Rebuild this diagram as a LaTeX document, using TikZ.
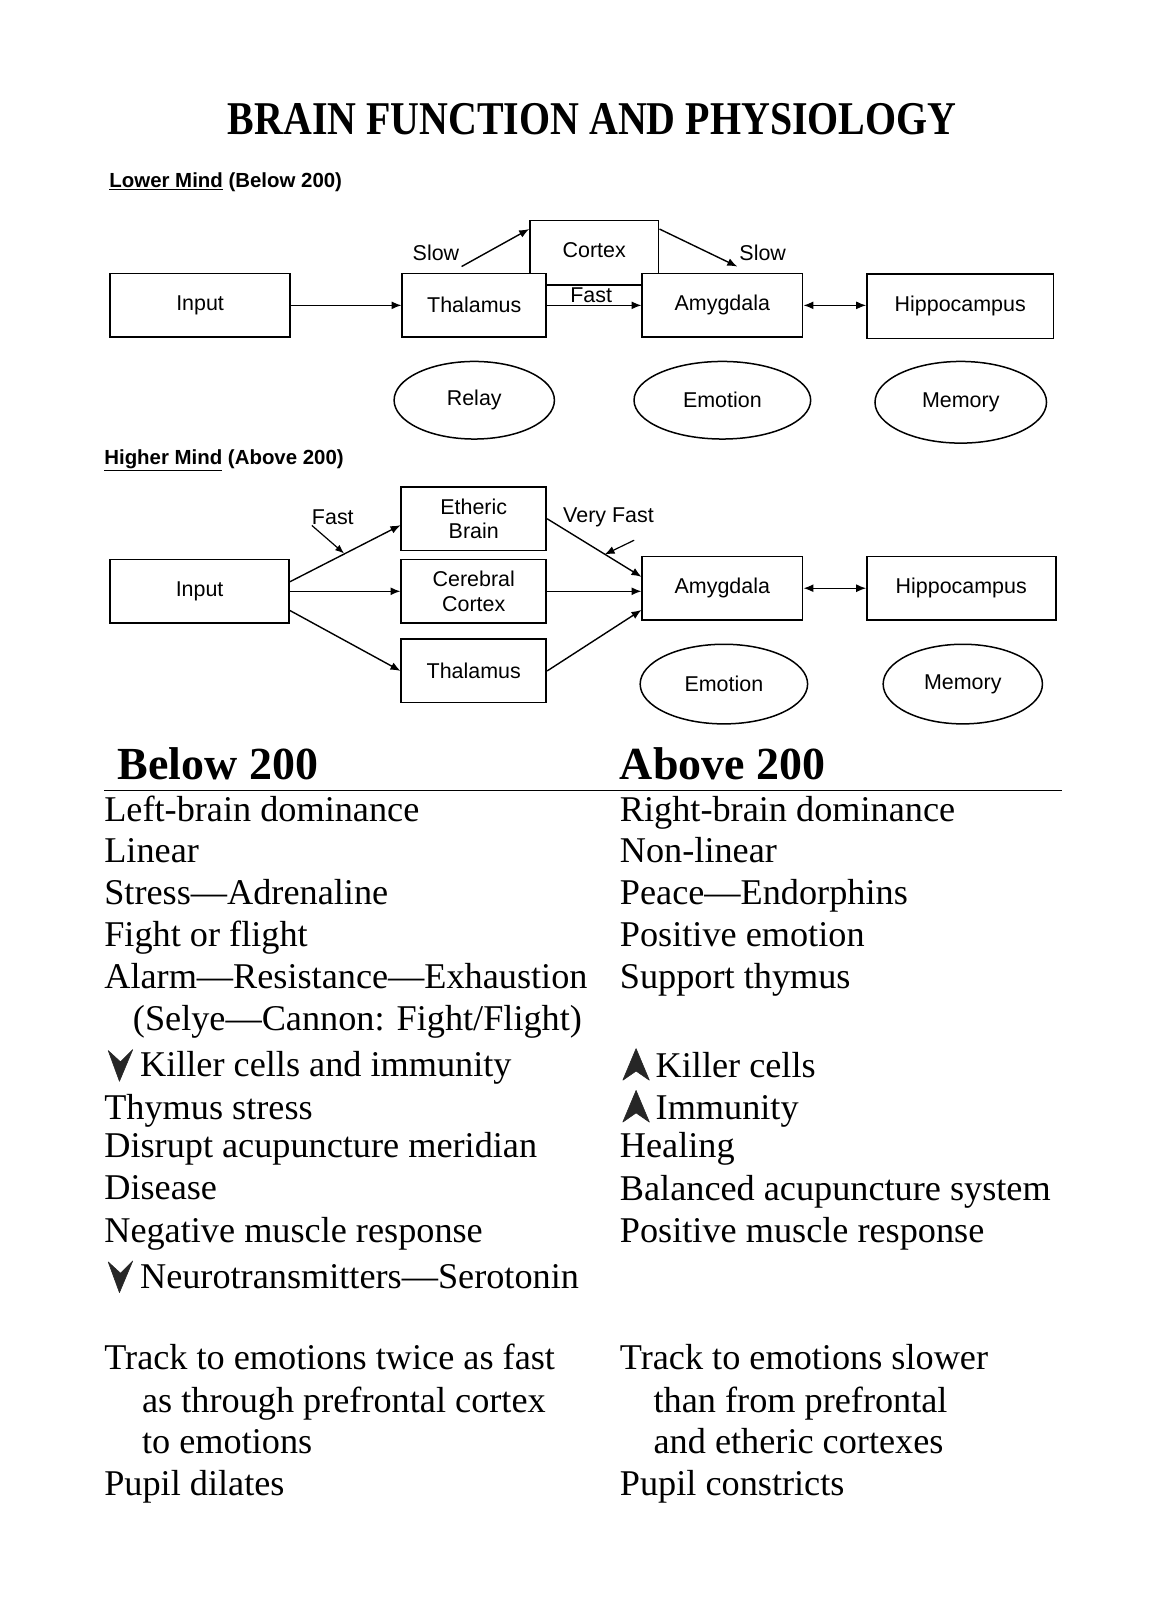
\documentclass[tikz,border=0pt]{standalone}
\usepackage{fontspec}
\setmainfont{Liberation Serif}
\newfontfamily\diagfont{Liberation Sans}
\usetikzlibrary{shapes.geometric,arrows.meta}
\begin{document}
\begin{tikzpicture}[x=1pt,y=-1pt,scale=1.021,transform shape,
  box/.style={draw,line width=1.6pt,fill=white,inner sep=0pt,font=\diagfont\fontsize{21}{24}\selectfont,align=center},
  oval/.style={draw,ellipse,line width=1.5pt,inner sep=0pt,font=\diagfont\fontsize{21}{24}\selectfont},
  lbl/.style={inner sep=0pt,font=\diagfont\fontsize{21}{24}\selectfont},
  arr/.style={line width=1.4pt,-{Latex[length=10pt,width=8pt]}},
  darr/.style={line width=1.4pt,{Latex[length=10pt,width=8pt]}-{Latex[length=10pt,width=8pt]}},
  txt/.style={anchor=base west,inner sep=0pt,font=\fontsize{35.5}{40}\selectfont},
  head/.style={anchor=base west,inner sep=0pt,font=\bfseries\fontsize{45}{48}\selectfont},
  sub/.style={anchor=base west,inner sep=0pt,font=\diagfont\bfseries\fontsize{20}{24}\selectfont},
  glyph/.style={fill=black!85,draw=black!85,line width=0.6pt,line join=round}
]
\useasboundingbox (0,0) rectangle (1137.1,1567.1);

% Title
\node[inner sep=0pt,xscale=0.85,font=\bfseries\fontsize{46}{50}\selectfont] (title) at (580,117) {BRAIN FUNCTION AND PHYSIOLOGY};
\node[sub] (lower) at (107,184) {\underline{Lower Mind} (Below 200)};

% ---- Lower mind diagram ----
\node[box,minimum width=126,minimum height=63,text depth=5pt] (cortex) at (582,247.5) {Cortex};
\node[box,minimum width=176,minimum height=62] (in1) at (196,299) {Input};
\node[box,minimum width=141,minimum height=62] (thal1) at (464.5,299) {Thalamus};
\node[box,minimum width=157,minimum height=62] (amy1) at (707.5,299) {Amygdala};
\node[box,minimum width=183,minimum height=63] (hip1) at (940.5,300) {Hippocampus};

\node[oval,minimum width=157,minimum height=76] (relay) at (464.5,392) {Relay};
\node[oval,minimum width=173,minimum height=76] (emo1) at (707.5,392) {Emotion};
\node[oval,minimum width=168,minimum height=80] (mem1) at (941,394) {Memory};

\coordinate (s1) at (452,261);
\coordinate (s2) at (722,261);
\node[lbl] (slow1) at (427,248) {Slow};
\node[lbl] (slow2) at (747,248) {Slow};
\node[lbl] (fast1) at (579,289) {Fast};

\draw[arr] (in1.east) -- (thal1.west);
\draw[arr] (s1) -- (cortex.160);
\draw[arr] (cortex.20) -- (s2);
\draw[arr] (thal1.east) -- (amy1.west);
\draw[darr] (amy1.east) -- (hip1.west |- amy1.east);

% ---- Higher mind diagram ----
\node[sub] (higher) at (102,455) {\underline{Higher Mind} (Above 200)};

\node[box,minimum width=175,minimum height=62] (in2) at (195.5,579) {Input};
\node[box,minimum width=142,minimum height=62] (eth) at (464,508) {Etheric\\Brain};
\node[box,minimum width=142,minimum height=62] (cer) at (464,579) {Cerebral\\Cortex};
\node[box,minimum width=142,minimum height=62] (thal2) at (464,657) {Thalamus};
\node[box,minimum width=157,minimum height=62] (amy2) at (707.5,576) {Amygdala};
\node[box,minimum width=185,minimum height=62] (hip2) at (941.5,576) {Hippocampus};

\node[oval,minimum width=164,minimum height=78] (emo2) at (709,670) {Emotion};
\node[oval,minimum width=156,minimum height=78] (mem2) at (943,670) {Memory};

\node[lbl] (fast2) at (326,507) {Fast};
\node[lbl] (vfast) at (596,507) {Very Fast};
\coordinate (f2) at (337,542);
\coordinate (vf1) at (621,529);
\coordinate (vf2) at (592,543);

\draw[arr] (in2.6) -- (eth.185);
\draw[arr] (in2.east) -- (cer.west);
\draw[arr] (in2.-12) -- (thal2.west);
\draw[arr] (eth.east) -- (amy2.172);
\draw[arr] (cer.east) -- (cer.east -| amy2.west);
\draw[arr] (thal2.east) -- (amy2.195);
\draw[line width=1.2pt,-{Latex[length=9pt,width=7pt]}] (fast2.south west) -- (f2);
\draw[line width=1.2pt,-{Latex[length=10pt,width=8pt]}] (vf1) -- (vf2);
\draw[darr] (amy2.east) -- (hip2.west |- amy2.east);

% ---- Table ----
\node[head] (hb) at (115,763) {Below 200};
\node[head] (ha) at (607,763) {Above 200};
\coordinate (r1) at (102,774);
\coordinate (r2) at (1040,774);
\draw[line width=1.2pt] (r1) -- (r2);

\node[txt] (l1) at (102,805) {Left-brain dominance};
\node[txt] (l2) at (102,845) {Linear};
\node[txt] (l3) at (102,886) {Stress—Adrenaline};
\node[txt] (l4) at (102,927) {Fight or flight};
\node[txt] (l5) at (102,968) {Alarm—Resistance—Exhaustion};
\node[txt] (l6) at (130,1009) {(Selye—Cannon: Fight/Flight)};
\node[txt] (l7) at (137,1054) {Killer cells and immunity};
\node[txt] (l8) at (102,1096) {Thymus stress};
\node[txt] (l9) at (102,1134) {Disrupt acupuncture meridian};
\node[txt] (l10) at (102,1175) {Disease};
\node[txt] (l11) at (102,1217) {Negative muscle response};
\node[txt] (l12) at (137,1262) {Neurotransmitters—Serotonin};
\node[txt] (l13) at (102,1341) {Track to emotions twice as fast};
\node[txt] (l14) at (139,1383) {as through prefrontal cortex};
\node[txt] (l15) at (139,1424) {to emotions};
\node[txt] (l16) at (102,1465) {Pupil dilates};

\node[txt] (q1) at (607,805) {Right-brain dominance};
\node[txt] (q2) at (607,845) {Non-linear};
\node[txt] (q3) at (607,886) {Peace—Endorphins};
\node[txt] (q4) at (607,927) {Positive emotion};
\node[txt] (q5) at (607,968) {Support thymus};
\node[txt] (q7) at (642,1055) {Killer cells};
\node[txt] (q8) at (642,1096) {Immunity};
\node[txt] (q9) at (607,1134) {Healing};
\node[txt] (q10) at (607,1176) {Balanced acupuncture system};
\node[txt] (q11) at (607,1217) {Positive muscle response};
\node[txt] (q13) at (607,1341) {Track to emotions slower};
\node[txt] (q14) at (640,1383) {than from prefrontal};
\node[txt] (q15) at (640,1424) {and etheric cortexes};
\node[txt] (q16) at (607,1465) {Pupil constricts};

% arrowhead glyphs
\fill[glyph] (106,1029) -- (118,1040) -- (130,1028) -- (117,1059) -- cycle;
\fill[glyph] (106,1236) -- (118,1247) -- (130,1235) -- (117,1266) -- cycle;
\fill[glyph] (623,1027) -- (636,1058) -- (623,1049) -- (610,1058) -- cycle;
\fill[glyph] (623,1068) -- (636,1099) -- (623,1090) -- (610,1099) -- cycle;
\end{tikzpicture}
\end{document}
